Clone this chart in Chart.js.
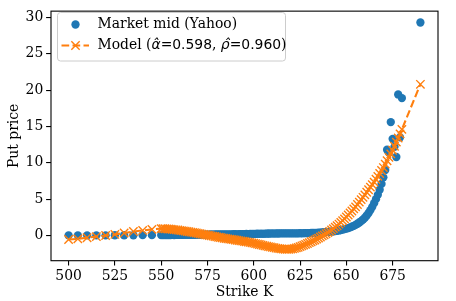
<!DOCTYPE html>
<html>
<head>
<meta charset="utf-8">
<script src="https://cdn.jsdelivr.net/npm/chart.js@4.4.1/dist/chart.umd.min.js"></script>
<style>
  html, body { margin: 0; padding: 0; background: #fff; }
  #wrap { width: 456px; height: 301px; }
</style>
</head>
<body>
<div id="wrap"><canvas id="putChart" width="456" height="301"></canvas></div>
<script>
// strikes: every 5 below 550, every 1 from 550 to 680, then 690
const strikes = [
  500, 505, 510, 515, 520, 525, 530, 535, 540, 545,
  550, 551, 552, 553, 554, 555, 556, 557, 558, 559,
  560, 561, 562, 563, 564, 565, 566, 567, 568, 569,
  570, 571, 572, 573, 574, 575, 576, 577, 578, 579,
  580, 581, 582, 583, 584, 585, 586, 587, 588, 589,
  590, 591, 592, 593, 594, 595, 596, 597, 598, 599,
  600, 601, 602, 603, 604, 605, 606, 607, 608, 609,
  610, 611, 612, 613, 614, 615, 616, 617, 618, 619,
  620, 621, 622, 623, 624, 625, 626, 627, 628, 629,
  630, 631, 632, 633, 634, 635, 636, 637, 638, 639,
  640, 641, 642, 643, 644, 645, 646, 647, 648, 649,
  650, 651, 652, 653, 654, 655, 656, 657, 658, 659,
  660, 661, 662, 663, 664, 665, 666, 667, 668, 669,
  670, 671, 672, 673, 674, 675, 676, 677, 678, 679,
  680, 690
];

// market mid put prices (Yahoo)
const marketMid = [
  0.02, 0.02, 0.03, 0.03, 0.03, 0.04, 0.04, 0.04, 0.05, 0.05,
  0.06, 0.06, 0.07, 0.06, 0.07, 0.07, 0.08, 0.07, 0.08, 0.08,
  0.09, 0.08, 0.09, 0.10, 0.09, 0.10, 0.10, 0.11, 0.10, 0.11,
  0.12, 0.11, 0.12, 0.12, 0.13, 0.12, 0.13, 0.14, 0.13, 0.14,
  0.15, 0.14, 0.15, 0.16, 0.15, 0.16, 0.17, 0.16, 0.17, 0.18,
  0.18, 0.17, 0.19, 0.18, 0.20, 0.19, 0.21, 0.20, 0.22, 0.21,
  0.24, 0.22, 0.25, 0.23, 0.26, 0.24, 0.27, 0.25, 0.28, 0.26,
  0.29, 0.27, 0.30, 0.28, 0.30, 0.29, 0.31, 0.29, 0.30, 0.30,
  0.29, 0.30, 0.31, 0.30, 0.31, 0.32, 0.31, 0.33, 0.32, 0.34,
  0.34, 0.35, 0.35, 0.37, 0.38, 0.40, 0.41, 0.43, 0.45, 0.47,
  0.50, 0.52, 0.55, 0.58, 0.62, 0.66, 0.70, 0.75, 0.81, 0.88,
  0.95, 1.03, 1.12, 1.22, 1.34, 1.47, 1.62, 1.79, 1.98, 2.20,
  2.45, 2.75, 3.10, 3.50, 3.95, 4.45, 5.00, 5.60, 6.30, 7.10,
  8.00, 9.00, 11.8, 11.4, 15.6, 13.3, 12.2, 10.8, 19.4, 13.5,
  18.9, 29.3
];

// fitted model prices
const modelPrice = [
  -0.55, -0.45, -0.30, -0.15, 0.00, 0.15, 0.35, 0.55, 0.70, 0.85,
  0.95, 0.94, 0.93, 0.92, 0.90, 0.88, 0.85, 0.82, 0.79, 0.76,
  0.72, 0.68, 0.64, 0.60, 0.56, 0.52, 0.48, 0.44, 0.39, 0.35,
  0.30, 0.25, 0.20, 0.16, 0.11, 0.06, 0.01, -0.04, -0.09, -0.13,
  -0.18, -0.23, -0.27, -0.32, -0.37, -0.41, -0.45, -0.49, -0.53, -0.57,
  -0.61, -0.65, -0.69, -0.73, -0.77, -0.82, -0.86, -0.91, -0.95, -1.00,
  -1.05, -1.11, -1.17, -1.23, -1.29, -1.35, -1.41, -1.46, -1.52, -1.57,
  -1.62, -1.67, -1.72, -1.76, -1.80, -1.84, -1.87, -1.89, -1.90, -1.89,
  -1.87, -1.83, -1.77, -1.70, -1.62, -1.52, -1.42, -1.32, -1.21, -1.09,
  -0.97, -0.85, -0.73, -0.61, -0.48, -0.35, -0.20, -0.05, 0.10, 0.25,
  0.40, 0.58, 0.76, 0.95, 1.15, 1.35, 1.58, 1.81, 2.05, 2.30,
  2.55, 2.82, 3.10, 3.38, 3.66, 3.95, 4.27, 4.60, 4.93, 5.26,
  5.60, 5.95, 6.30, 6.65, 7.00, 7.35, 7.74, 8.13, 8.53, 8.94,
  9.35, 9.82, 10.29, 10.76, 11.24, 11.73, 12.28, 12.84, 13.41, 13.99,
  14.60, 20.80
];

const xTicks = [500, 525, 550, 575, 600, 625, 650, 675];
const yTicks = [0, 5, 10, 15, 20, 25, 30];

const marketLabel = 'Market mid (Yahoo)';
const modelLabel = 'Model (\u03B1\u0302 = 0.598, \u03C1\u0302 = 0.960)';
// pieces of the model label: [text, font]
const modelLabelParts = [
  ['Model (', 'serif'],
  ['\u03B1\u0302', 'math'],
  ['=', 'sans'],
  ['0.598', 'sans'],
  [', ', 'serif'],
  ['\u03C1\u0302', 'math'],
  ['=', 'sans'],
  ['0.960', 'sans'],
  [')', 'serif']
];

const BLUE = '#1f77b4';
const ORANGE = '#ff7f0e';
const FS = 13.9;
const SERIF = '"DejaVu Serif", serif';
const fonts = {
  serif: FS + 'px ' + SERIF,
  sans: FS + 'px "DejaVu Sans", sans-serif',
  math: 'oblique ' + FS + 'px "DejaVu Sans", sans-serif'
};

function toPoints(ys) {
  return strikes.map((k, i) => ({ x: k, y: ys[i] }));
}

// full box around the plot area, like matplotlib spines
const frame = {
  id: 'frame',
  afterDatasetsDraw(chart) {
    const { ctx, chartArea: a } = chart;
    ctx.save();
    ctx.strokeStyle = '#000';
    ctx.lineWidth = 1.1;
    ctx.strokeRect(a.left, a.top, a.right - a.left, a.bottom - a.top);
    ctx.restore();
  }
};

const boxLegend = {
  id: 'boxLegend',
  afterDraw(chart) {
    const ctx = chart.ctx;
    const x0 = 57.5, y0 = 12.5, w = 228, h = 48.5, r = 3;
    ctx.save();
    ctx.beginPath();
    ctx.moveTo(x0 + r, y0);
    ctx.arcTo(x0 + w, y0, x0 + w, y0 + h, r);
    ctx.arcTo(x0 + w, y0 + h, x0, y0 + h, r);
    ctx.arcTo(x0, y0 + h, x0, y0, r);
    ctx.arcTo(x0, y0, x0 + w, y0, r);
    ctx.closePath();
    ctx.fillStyle = 'rgba(255,255,255,0.8)';
    ctx.fill();
    ctx.strokeStyle = '#cccccc';
    ctx.lineWidth = 1;
    ctx.stroke();

    const hx = 75.5, tx = 97.5, row1 = 24.5, row2 = 45.5;
    // market entry
    ctx.fillStyle = BLUE;
    ctx.beginPath();
    ctx.arc(hx, row1, 4.15, 0, Math.PI * 2);
    ctx.fill();
    ctx.fillStyle = '#000';
    ctx.textBaseline = 'middle';
    ctx.font = fonts.serif;
    ctx.fillText(chart.data.datasets[0].label, tx, row1);

    // model entry
    ctx.strokeStyle = ORANGE;
    ctx.lineWidth = 2.1;
    ctx.setLineDash([7.7, 3.3]);
    ctx.beginPath();
    ctx.moveTo(61.5, row2);
    ctx.lineTo(89, row2);
    ctx.stroke();
    ctx.setLineDash([]);
    ctx.lineWidth = 1.4;
    const d = 4.15;
    ctx.beginPath();
    ctx.moveTo(hx - d, row2 - d); ctx.lineTo(hx + d, row2 + d);
    ctx.moveTo(hx - d, row2 + d); ctx.lineTo(hx + d, row2 - d);
    ctx.stroke();

    ctx.fillStyle = '#000';
    let cx = tx;
    modelLabelParts.forEach(([txt, f]) => {
      ctx.font = fonts[f];
      ctx.fillText(txt, cx, row2);
      cx += ctx.measureText(txt).width;
    });
    ctx.restore();
  }
};

const ctx = document.getElementById('putChart').getContext('2d');
new Chart(ctx, {
  type: 'scatter',
  data: {
    datasets: [
      {
        label: marketLabel,
        data: toPoints(marketMid),
        showLine: false,
        pointStyle: 'circle',
        pointRadius: 4.15,
        pointBorderWidth: 0,
        backgroundColor: BLUE,
        borderColor: BLUE,
        order: 2
      },
      {
        label: modelLabel,
        data: toPoints(modelPrice),
        showLine: true,
        borderColor: ORANGE,
        borderWidth: 2.1,
        borderDash: [7.7, 3.3],
        pointStyle: 'crossRot',
        pointRadius: 5.9,
        pointBorderWidth: 1.4,
        pointBorderColor: ORANGE,
        backgroundColor: ORANGE,
        tension: 0,
        order: 1
      }
    ]
  },
  options: {
    responsive: false,
    animation: false,
    events: [],
    layout: { padding: { top: 6.7, right: 18, left: 0, bottom: 0 } },
    plugins: {
      legend: { display: false },
      tooltip: { enabled: false }
    },
    scales: {
      x: {
        type: 'linear',
        min: 490.5,
        max: 699.5,
        afterBuildTicks: s => { s.ticks = xTicks.map(v => ({ value: v })); },
        afterFit: s => { s.height = 40.3; },
        grid: { drawOnChartArea: false, drawTicks: true, tickLength: 4.9, color: '#000', lineWidth: 1.1 },
        border: { display: false },
        ticks: { color: '#000', font: { family: SERIF, size: FS }, padding: 2, maxRotation: 0 },
        title: { display: true, text: 'Strike K', color: '#000', font: { family: SERIF, size: FS }, padding: { top: 0, bottom: 0 } }
      },
      y: {
        type: 'linear',
        min: -3.46,
        max: 30.86,
        afterBuildTicks: s => { s.ticks = yTicks.map(v => ({ value: v })); },
        afterFit: s => { s.width = 51; },
        grid: { drawOnChartArea: false, drawTicks: true, tickLength: 4.9, color: '#000', lineWidth: 1.1 },
        border: { display: false },
        ticks: { color: '#000', font: { family: SERIF, size: FS }, padding: 2.8 },
        title: { display: true, text: 'Put price', color: '#000', font: { family: SERIF, size: FS }, padding: { top: 6, bottom: 0 } }
      }
    }
  },
  plugins: [frame, boxLegend]
});
</script>
</body>
</html>
